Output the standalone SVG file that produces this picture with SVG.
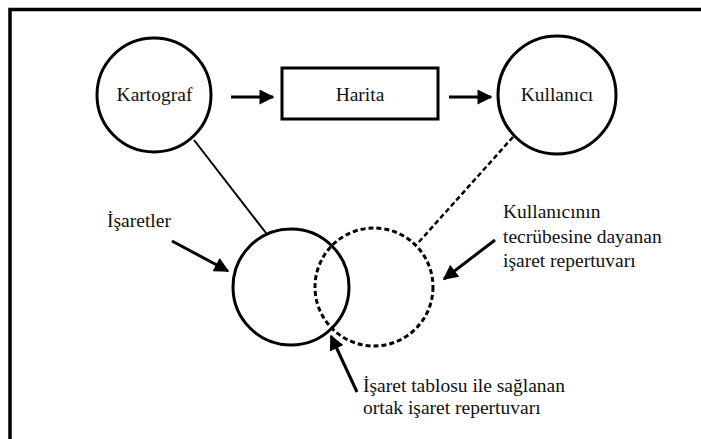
<svg xmlns="http://www.w3.org/2000/svg" width="701" height="439" viewBox="0 0 701 439">
<defs>
<marker id="ah" viewBox="0 0 10 10" refX="9" refY="5" markerWidth="5.2" markerHeight="5" orient="auto" markerUnits="strokeWidth">
<path d="M0,0 L10,5 L0,10 Z" fill="#000"/>
</marker>
<style>
.node{fill:#fff;stroke:#000;stroke-width:3}
.dash{fill:none;stroke:#000;stroke-width:3;stroke-dasharray:5 3}
.t{font-family:"Liberation Serif","Times New Roman",serif;font-size:19.5px;fill:#111}
.c{text-anchor:middle}
.arr{stroke:#000;stroke-width:3;fill:none;marker-end:url(#ah)}
.ln{stroke:#000;stroke-width:2;fill:none}
.dln{stroke:#000;stroke-width:2.5;fill:none;stroke-dasharray:5 3}
</style>
</defs>
<rect x="0" y="0" width="701" height="439" fill="#fff"/>
<path d="M10,445 V9.5 H705" fill="none" stroke="#000" stroke-width="3.5"/>
<g id="connectors">
<line class="ln" x1="194" y1="140" x2="266" y2="233"/>
<line class="dln" x1="513" y1="137" x2="418" y2="243"/>
<line class="arr" x1="231" y1="97" x2="273" y2="97"/>
<line class="arr" x1="449" y1="97" x2="491" y2="97"/>
<line class="arr" x1="172" y1="241" x2="228" y2="271"/>
<line class="arr" x1="495" y1="240" x2="444" y2="279"/>
<line class="arr" x1="357" y1="392" x2="331" y2="336"/>
</g>
<g id="kartograf">
<circle class="node" cx="154" cy="95" r="57"/>
<text class="t c" x="154.5" y="101">Kartograf</text>
</g>
<g id="harita">
<rect class="node" x="282" y="68" width="156" height="51"/>
<text class="t c" x="360" y="101">Harita</text>
</g>
<g id="kullanici">
<circle class="node" cx="557" cy="95" r="59"/>
<text class="t c" x="557" y="101">Kullanıcı</text>
</g>
<g id="isaretler">
<circle cx="291" cy="287" r="58" fill="none" stroke="#000" stroke-width="3"/>
<text class="t" x="107" y="227">İşaretler</text>
</g>
<g id="kullanici-repertuvar">
<circle class="dash" cx="374" cy="287" r="59"/>
<text class="t" x="503" y="218">Kullanıcının</text>
<text class="t" x="503" y="243">tecrübesine dayanan</text>
<text class="t" x="503" y="267">işaret repertuvarı</text>
</g>
<g id="ortak">
<text class="t" x="363" y="392">İşaret tablosu ile sağlanan</text>
<text class="t" x="363" y="414">ortak işaret repertuvarı</text>
</g>
</svg>
